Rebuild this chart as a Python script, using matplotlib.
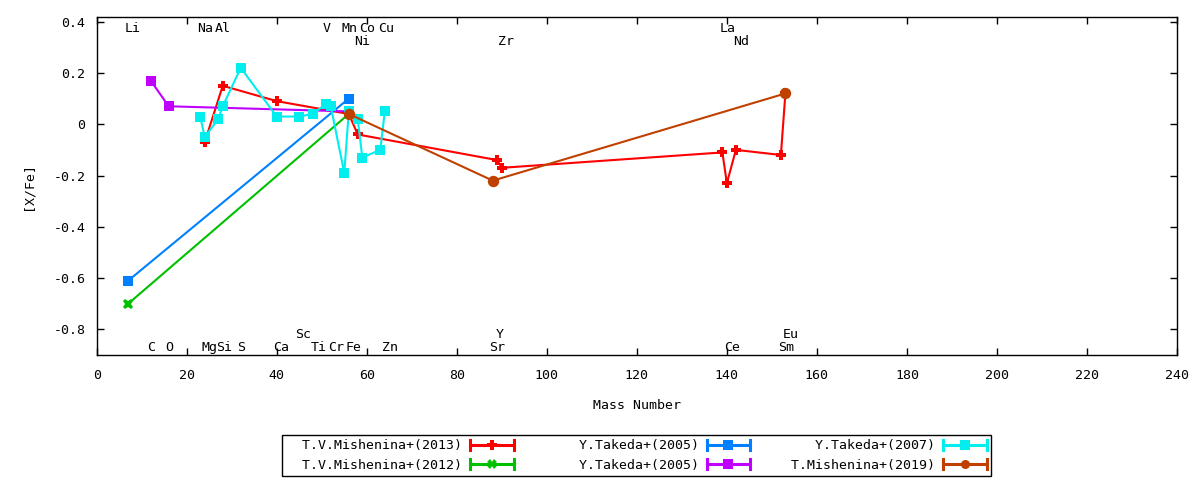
import matplotlib
matplotlib.use('Agg')
import matplotlib.pyplot as plt
from matplotlib.lines import Line2D
from matplotlib.legend_handler import HandlerBase
from matplotlib.ticker import FuncFormatter

plt.rcParams['font.family'] = ['DejaVu Sans Mono', 'DejaVu Sans']
FS = 9.5

# ---------------- data ----------------
red_x = [24, 28, 40, 56, 58, 89, 90, 139, 140, 142, 152, 153]
red_y = [-0.07, 0.15, 0.09, 0.04, -0.04, -0.14, -0.17, -0.11, -0.23, -0.10, -0.12, 0.12]

green_x = [7, 56]
green_y = [-0.70, 0.04]

blue_x = [7, 56]
blue_y = [-0.61, 0.10]

purple_x = [12, 16, 56]
purple_y = [0.17, 0.07, 0.05]

cyan_x = [23, 24, 27, 28, 32, 40, 45, 48, 51, 52, 55, 56, 58, 59, 63, 64]
cyan_y = [0.03, -0.05, 0.02, 0.07, 0.22, 0.03, 0.03, 0.04, 0.08, 0.07,
          -0.19, 0.05, 0.02, -0.13, -0.10, 0.05]

brown_x = [56, 88, 153]
brown_y = [0.04, -0.22, 0.12]

series_labels = ['T.V.Mishenina+(2013)', 'T.V.Mishenina+(2012)',
                 'Y.Takeda+(2005)', 'Y.Takeda+(2005)',
                 'Y.Takeda+(2007)', 'T.Mishenina+(2019)']

# element labels: (name, x position)
top1_names = ['Li', 'Na', 'Al', 'V', 'Mn', 'Co', 'Cu', 'La']
top1_x = [7.9, 24.0, 27.9, 51.1, 56.1, 60.0, 64.2, 140.2]
top2_names = ['Ni', 'Zr', 'Nd']
top2_x = [59.0, 91.0, 143.1]
bot1_names = ['Sc', 'Y', 'Eu']
bot1_x = [45.8, 89.5, 154.3]
bot2_names = ['C', 'O', 'Mg', 'Si', 'S', 'Ca', 'Ti', 'Cr', 'Fe', 'Zn', 'Sr', 'Ce', 'Sm']
bot2_x = [12.1, 16.1, 25.1, 28.3, 32.0, 41.0, 49.3, 53.3, 57.1, 65.1, 89.0, 141.1, 153.1]

x_ticks = list(range(0, 241, 20))
y_ticks = [-0.8, -0.6, -0.4, -0.2, 0, 0.2, 0.4]

# ---------------- styles ----------------
colors = ['#ff0000', '#00c000', '#0080ff', '#c000ff', '#00eeee', '#c04000']
markers = ['P', 'X', 's', 's', 's', 'o']
msizes = [7.5, 7.5, 7.5, 7.5, 7.5, 8.2]

fig = plt.figure(figsize=(12, 4.8), dpi=100)
ax = fig.add_axes([96.7 / 1200, 1 - 355 / 480, (1177 - 96.7) / 1200, (355 - 17.3) / 480])

all_x = [red_x, green_x, blue_x, purple_x, cyan_x, brown_x]
all_y = [red_y, green_y, blue_y, purple_y, cyan_y, brown_y]
handles = []
for xs, ys, c, m, ms, lab in zip(all_x, all_y, colors, markers, msizes, series_labels):
    h, = ax.plot(xs, ys, color=c, lw=1.5, marker=m, ms=ms, mfc=c, mec=c, mew=0,
                 label=lab, clip_on=False)
    handles.append(h)

ax.set_xlim(0, 240)
ax.set_ylim(-0.9, 0.417)
ax.set_xticks(x_ticks)
ax.set_yticks(y_ticks)
ax.yaxis.set_major_formatter(FuncFormatter(lambda v, p: ('%g' % round(v, 3)) if abs(v) > 1e-9 else '0'))
ax.tick_params(direction='in', length=5, width=1, top=True, right=True,
               labelsize=FS, color='black')
ax.tick_params(axis='x', pad=10)
ax.tick_params(axis='y', pad=8)
for s in ax.spines.values():
    s.set_linewidth(1)
ax.set_xlabel('Mass Number', fontsize=FS, labelpad=12)
ax.set_ylabel('[X/Fe]', fontsize=FS, labelpad=14)

for names, xs, yb in [(top1_names, top1_x, 0.360), (top2_names, top2_x, 0.310),
                      (bot1_names, bot1_x, -0.832), (bot2_names, bot2_x, -0.885)]:
    for n, x in zip(names, xs):
        ax.text(x, yb, n, ha='center', va='baseline', fontsize=FS, color='black')


class HandlerErrLine(HandlerBase):
    def create_artists(self, legend, orig_handle, xdescent, ydescent, width,
                       height, fontsize, trans):
        c = orig_handle.get_color()
        y = height / 2 - ydescent
        x0 = -xdescent
        x1 = width - xdescent
        hh = 3.6
        lw = 2.2
        line = Line2D([x0, x1], [y, y], color=c, lw=lw, transform=trans)
        cap1 = Line2D([x0, x0], [y - hh, y + hh], color=c, lw=lw, transform=trans)
        cap2 = Line2D([x1, x1], [y - hh, y + hh], color=c, lw=lw, transform=trans)
        mk = Line2D([(x0 + x1) / 2], [y], marker=orig_handle.get_marker(),
                    ms=6.5, mfc=c, mec=c, mew=0, ls='none', transform=trans)
        return [line, cap1, cap2, mk]


# gnuplot key: fixed-width, right-aligned columns
key_width = 22
key_labels = [s.rjust(key_width) for s in series_labels]

leg = fig.legend(handles=handles, labels=key_labels, loc='upper center',
                 bbox_to_anchor=(636.5 / 1200, 1 - 435 / 480), ncol=3,
                 markerfirst=False, fontsize=FS, frameon=True, fancybox=False,
                 shadow=False, framealpha=1, edgecolor='black',
                 handlelength=3.3, handletextpad=0.6, columnspacing=0.7,
                 labelspacing=0.5, borderpad=0.33, borderaxespad=0,
                 handler_map={Line2D: HandlerErrLine()})
leg.get_frame().set_linewidth(1)

fig.savefig('out.png', dpi=100)
